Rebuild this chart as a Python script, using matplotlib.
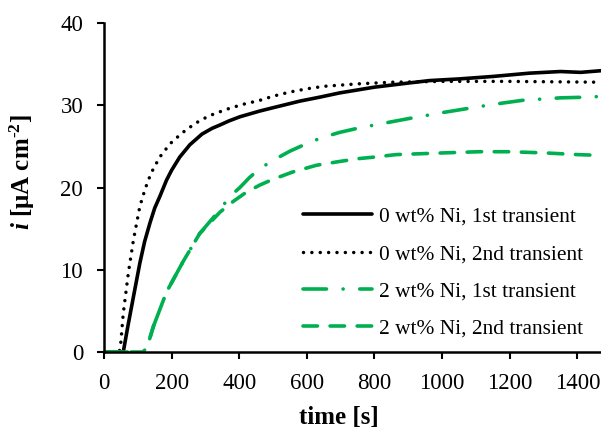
import matplotlib
matplotlib.use("Agg")
import matplotlib.pyplot as plt

plt.rcParams['font.family'] = ['Liberation Serif', 'DejaVu Serif']
plt.rcParams['mathtext.fontset'] = 'custom'
plt.rcParams['mathtext.rm'] = 'Liberation Serif:bold'
plt.rcParams['mathtext.it'] = 'Liberation Serif:bold:italic'
plt.rcParams['mathtext.bf'] = 'Liberation Serif:bold'

# ---- data ----
t_ni0_1 = [0, 50, 57, 70, 87, 106, 120, 136, 150, 165, 185, 200, 224, 254, 290, 320, 343, 370,
           402, 461, 500, 579, 640, 697, 800, 900, 963, 1050, 1150, 1258, 1350, 1410, 1470]
i_ni0_1 = [0, 0, 0, 3.0, 6.7, 10.8, 13.4, 15.7, 17.5, 18.9, 20.9, 22.1, 23.7, 25.2, 26.5, 27.2, 27.6, 28.1,
           28.6, 29.3, 29.7, 30.5, 31.0, 31.5, 32.2, 32.7, 33.0, 33.2, 33.5, 33.9, 34.1, 34.0, 34.2]

t_ni0_2 = [0, 45, 49, 57, 72, 87, 106, 120, 131, 145, 165, 195, 230, 270, 310, 362, 410, 461,
           500, 549, 600, 650, 750, 850, 1000, 1200, 1470]
i_ni0_2 = [0, 0, 0.8, 4.7, 9.6, 13.6, 17.7, 19.6, 20.9, 22.2, 23.7, 25.3, 26.6, 27.8, 28.7, 29.5, 30.1, 30.6,
           31.1, 31.6, 32.0, 32.3, 32.6, 32.8, 32.9, 32.9, 32.8]

t_ni2_1 = [0, 100, 116, 125, 135, 146, 185, 234, 283, 343, 372, 402, 430, 461, 500, 549, 608, 648,
           697, 750, 800, 904, 1000, 1060, 1150, 1238, 1350, 1444, 1470]
i_ni2_1 = [0, 0, 0, 0.5, 1.6, 3.1, 7.3, 11.0, 14.4, 17.3, 18.9, 20.0, 21.2, 22.3, 23.3, 24.4, 25.5, 26.1,
           26.7, 27.2, 27.6, 28.4, 29.1, 29.5, 30.1, 30.6, 30.9, 31.0, 31.1]

t_ni2_2 = [0, 100, 116, 125, 135, 146, 185, 234, 283, 320, 343, 382, 420, 461, 500, 559, 628, 687,
           750, 800, 864, 1000, 1110, 1200, 1307, 1400, 1470]
i_ni2_2 = [0, 0, 0, 0.5, 1.6, 3.1, 7.3, 11.0, 14.4, 16.0, 17.0, 18.3, 19.4, 20.3, 21.0, 21.9, 22.7, 23.1,
           23.5, 23.7, 24.0, 24.2, 24.35, 24.35, 24.2, 24.0, 23.9]

labels = ["0 wt% Ni, 1st transient", "0 wt% Ni, 2nd transient",
          "2 wt% Ni, 1st transient", "2 wt% Ni, 2nd transient"]
x_ticks = [0, 200, 400, 600, 800, 1000, 1200, 1400]
y_ticks = [0, 10, 20, 30, 40]

green = '#00B050'

fig = plt.figure(figsize=(6.01, 4.30), dpi=100)
ax = fig.add_axes([104/601, 1-352/430, (601-104)/601, (352-23)/430])

ax.plot(t_ni0_1, i_ni0_1, color='black', lw=2.6, solid_capstyle='round',
        solid_joinstyle='round', label=labels[0])
ax.plot(t_ni0_2, i_ni0_2, color='black', lw=2.5, linestyle=(0, (0.01, 2.4)),
        dash_capstyle='round', label=labels[1])
ax.plot(t_ni2_1, i_ni2_1, color=green, lw=2.6, linestyle=(0, (6.5, 4.6, 0.01, 4.6)),
        dash_capstyle='round', label=labels[2])
ax.plot(t_ni2_2, i_ni2_2, color=green, lw=2.6, linestyle=(0, (4.0, 3.5)),
        dash_capstyle='round', label=labels[3])

ax.set_xlim(0, 1470)
ax.set_ylim(0, 40)
ax.set_xticks(x_ticks)
ax.set_yticks(y_ticks)
ax.tick_params(axis='both', direction='out', length=5, width=1.5, labelsize=16.5, pad=10)
for s in ['top', 'right']:
    ax.spines[s].set_visible(False)
for s in ['left', 'bottom']:
    ax.spines[s].set_linewidth(1.8)

ax.set_xlabel("time [s]", fontsize=18, fontweight='bold')
ax.set_ylabel(r"$i$ [μA cm$^{\text{-}2}$]", fontsize=18, fontweight='bold')
ax.xaxis.set_label_coords(0.473, -0.163)
ax.yaxis.set_label_coords(-0.135, 0.547)

leg = ax.legend(loc='upper left', bbox_to_anchor=((303-104)/497, (352-207)/329),
                frameon=False, fontsize=15.4, handlelength=3.22, handletextpad=0.33,
                labelspacing=0.8, borderpad=0, borderaxespad=0)

fig.savefig("out.png", dpi=100)
